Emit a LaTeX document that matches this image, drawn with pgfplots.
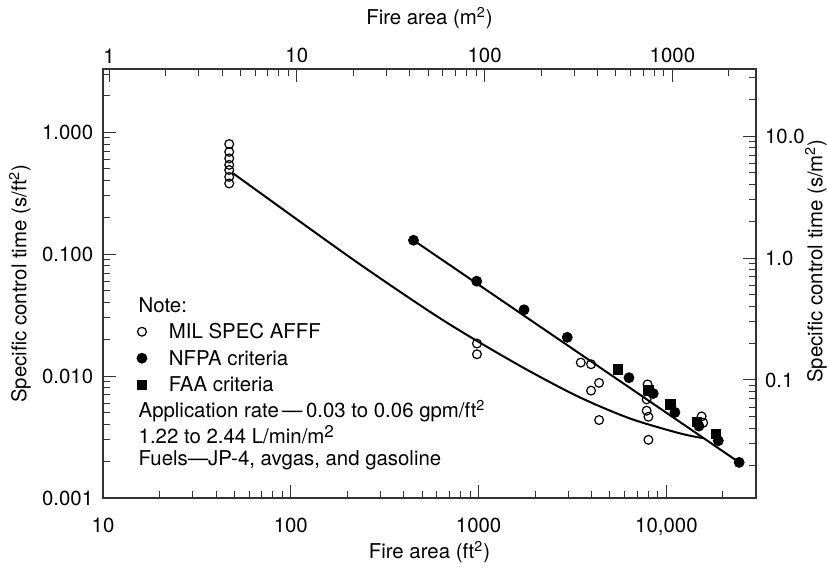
\documentclass[border=0pt]{standalone}
\usepackage{pgfplots}
\pgfplotsset{compat=1.18}
\usepackage{fontspec}
\setmainfont{TeX Gyre Heros}
\begin{document}
\begin{tikzpicture}
\begin{axis}[width=326.5pt, height=214.5pt, scale only axis,
  xmode=log, ymode=log, name=main,
  tick align=inside,
  major tick length=6.3pt, minor tick length=3.5pt,
  every tick/.style={black!80, line width=0.5pt},
  axis line style={black!80, line width=0.6pt},
  tick label style={font=\fontsize{10.2}{12}\selectfont},
  xmin=10, xmax=30000, ymin=0.001, ymax=3.3,
  xtick pos=left, ytick pos=left,
  xtick={10,100,1000,10000}, xticklabels={10,100,1000,{10,000}},
  minor xtick={20,30,40,50,60,70,80,90,200,300,400,500,600,700,800,900,2000,3000,4000,5000,6000,7000,8000,9000,20000},
  ytick={0.001,0.01,0.1,1}, yticklabels={0.001,0.010,0.100,1.000},
  minor ytick={0.002,0.003,0.004,0.005,0.006,0.007,0.008,0.009,0.02,0.03,0.04,0.05,0.06,0.07,0.08,0.09,0.2,0.3,0.4,0.5,0.6,0.7,0.8,0.9,2,3},
  xticklabel shift=6.5pt, yticklabel shift=1.4pt,
  xlabel={Fire area (ft\textsuperscript{2})},
  ylabel={Specific control time (s/ft\textsuperscript{2})},
  xlabel style={at={(axis description cs:0.5,-0.1259)}, anchor=center, font=\fontsize{10.2}{12}\selectfont},
  ylabel style={at={(axis description cs:-0.1271,0.5)}, anchor=center, font=\fontsize{10.2}{12}\selectfont},
  legend style={draw=none, fill=none, inner sep=0pt, outer sep=0pt,
    at={(rel axis cs:0.052,0.4044)}, anchor=north west,
    font=\fontsize{10.2}{12}\selectfont, row sep=6.05pt, column sep=11pt,
    nodes={inner sep=0pt, text height=7.2pt, text depth=0pt}},
  legend cell align=left,
]
% fitted lines
\addplot[black, line width=1pt, forget plot] coordinates {(450,0.13) (24400,0.00196)};
\addplot[black, line width=1pt, smooth, forget plot] coordinates {
 (49.2,0.461) (206.5,0.0942) (550.8,0.0337) (979,0.01945) (1879,0.01092) (3468,0.00668) (6397,0.00449) (11800,0.00339) (15670,0.00310)};
% MIL SPEC AFFF
\addplot[only marks, mark=o, mark size=2.2pt, black, mark options={fill=white, line width=0.6pt}] coordinates {
 (47,0.80) (47,0.69) (47,0.61) (47,0.54) (47,0.49) (47,0.43) (47,0.38)
 (980,0.0185) (980,0.0151) (3500,0.0129) (3970,0.0125) (4380,0.0088) (3970,0.0076) (4380,0.00436)
 (7940,0.00855) (7850,0.00644) (7850,0.0052) (8020,0.00464) (8020,0.0030)
 (15400,0.00467) (15700,0.00414)};
\addlegendentry{MIL SPEC AFFF}
% FAA criteria (drawn before NFPA so circles sit on top)
\addplot[only marks, mark=square*, mark size=2.3pt, black, forget plot] coordinates {
 (5510,0.01135) (8020,0.00767) (10500,0.00586) (14500,0.00422) (18400,0.00335)};
% NFPA criteria
\addplot[only marks, mark=*, mark size=2.5pt, black] coordinates {
 (450,0.13) (977,0.060) (1746,0.035) (2966,0.0208) (6320,0.0097) (8510,0.0072)
 (11100,0.00504) (14900,0.00389) (18900,0.00295) (24400,0.00196)};
\addlegendentry{NFPA criteria}
\addlegendimage{only marks, mark=square*, mark size=2.1pt, black}
\addlegendentry{FAA criteria}
% notes
\node[anchor=base west, inner sep=0pt, font=\fontsize{10.2}{12}\selectfont] at (rel axis cs:0.054,0.433) {Note:};
\node[anchor=base west, inner sep=0pt, font=\fontsize{10.2}{12}\selectfont] at (rel axis cs:0.054,0.1876) {Application rate\,---\,0.03 to 0.06 gpm/ft\textsuperscript{2}};
\node[anchor=base west, inner sep=0pt, font=\fontsize{10.2}{12}\selectfont] at (rel axis cs:0.054,0.127) {1.22 to 2.44 L/min/m\raisebox{0.3em}{\fontsize{8.5}{9}\selectfont 2}};
\node[anchor=base west, inner sep=0pt, font=\fontsize{10.2}{12}\selectfont] at (rel axis cs:0.054,0.0769) {Fuels---JP-4, avgas, and gasoline};
\end{axis}
\begin{axis}[width=326.5pt, height=214.5pt, scale only axis,
  xmode=log, ymode=log,
  at={(main.south west)}, anchor=south west,
  tick align=inside,
  major tick length=6.3pt, minor tick length=3.5pt,
  every tick/.style={black!80, line width=0.5pt},
  axis line style={black!80, line width=0.6pt},
  tick label style={font=\fontsize{10.2}{12}\selectfont},
  xmin=0.92903, xmax=2787.1, ymin=0.010764, ymax=35.521,
  xtick pos=right, ytick pos=right, xticklabel pos=right, yticklabel pos=right,
  xtick={1,10,100,1000}, xticklabels={1,10,100,1000},
  minor xtick={2,3,4,5,6,7,8,9,20,30,40,50,60,70,80,90,200,300,400,500,600,700,800,900,2000},
  ytick={0.1,1,10}, yticklabels={0.1,1.0,10.0},
  minor ytick={0.02,0.03,0.04,0.05,0.06,0.07,0.08,0.09,0.2,0.3,0.4,0.5,0.6,0.7,0.8,0.9,2,3,4,5,6,7,8,9,20,30},
  xticklabel shift=-0.6pt, yticklabel shift=1pt,
  xlabel={Fire area (m\textsuperscript{2})},
  ylabel={Specific control time (s/m\textsuperscript{2})},
  xlabel style={at={(axis description cs:0.5,1.1189)}, anchor=center, font=\fontsize{10.2}{12}\selectfont},
  ylabel style={at={(axis description cs:1.0919,0.5524)}, anchor=center, font=\fontsize{10.2}{12}\selectfont},
]
\end{axis}
\pgfresetboundingbox
\path ([shift={(-51.5pt,-40.5pt)}]main.south west) rectangle ([shift={(35.5pt,34.5pt)}]main.north east);
\end{tikzpicture}
\end{document}
